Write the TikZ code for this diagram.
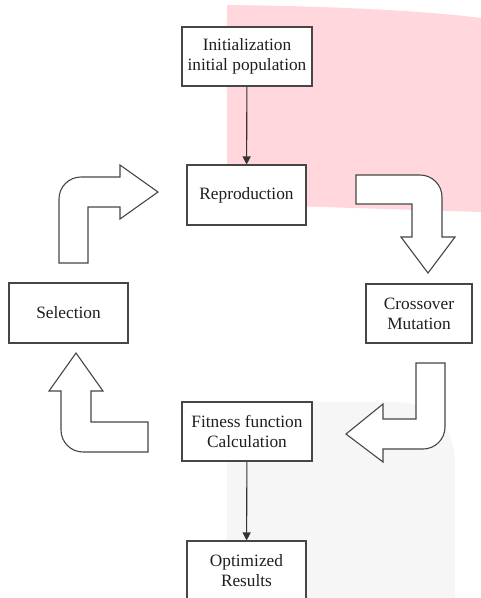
\documentclass[tikz,border=0pt]{standalone}
\usepackage{fontspec}
\setmainfont{Liberation Serif}
\usetikzlibrary{arrows.meta}
\definecolor{pinkbg}{RGB}{255,215,221}
\definecolor{graybg}{RGB}{246,246,246}
\definecolor{edge}{RGB}{70,70,70}
\definecolor{txt}{RGB}{30,30,30}
\tikzset{
  box/.style={draw=edge,line width=1.1pt,fill=white,text=txt,align=center,
    inner sep=0pt,font=\fontsize{17.3}{20}\selectfont},
  blockarrow/.style={draw=edge,line width=1.1pt,fill=white,line join=miter},
  link/.style={draw=black!80,line width=1.1pt,-{Triangle[length=8pt,width=8pt]}}
}
\begin{document}
\begin{tikzpicture}[x=1pt,y=-1pt]
\useasboundingbox (0,0) rectangle (481,598);
% background shapes
\fill[pinkbg] (227,5) .. controls (320,6) and (420,10) .. (481,18) -- (481,212) -- (227,204) -- cycle;
\fill[graybg] (227,402) -- (395,402) .. controls (432,402) and (455,425) .. (455,465) -- (455,598) -- (227,598) -- cycle;
% block arrows
\draw[blockarrow] (59,263) -- (59,199) .. controls (59,186.85) and (68.85,177) .. (81,177) -- (120,177) -- (120,165) -- (158,192) -- (120,219) -- (120,207) -- (88,207) -- (88,263) -- cycle;
\draw[blockarrow] (356,175) -- (420,175) .. controls (432.15,175) and (442,184.85) .. (442,197) -- (442,237) -- (455,237) -- (428,273) -- (401,237) -- (412,237) -- (412,204) -- (356,204) -- cycle;
\draw[blockarrow] (416,363) -- (445,363) -- (445,427) .. controls (445,439.15) and (435.15,449) .. (423,449) -- (383,449) -- (383,462) -- (346,434) -- (383,404) -- (383,419) -- (416,419) -- cycle;
\draw[blockarrow] (76,353) -- (103,391) -- (91,391) -- (91,422) -- (148,422) -- (148,452) -- (83,452) .. controls (70.85,452) and (61,442.15) .. (61,430) -- (61,391) -- (49,391) -- cycle;
% boxes
\node[box,minimum width=130pt,minimum height=59pt] (init) at (247,56.5) {Initialization\\initial population};
\node[box,minimum width=119pt,minimum height=60pt] (repro) at (246.5,195) {Reproduction};
\node[box,minimum width=119pt,minimum height=60pt] (sel) at (68.5,313) {Selection};
\node[box,minimum width=106pt,minimum height=59pt] (cross) at (419,313.5) {Crossover\\Mutation};
\node[box,minimum width=130pt,minimum height=59pt] (fit) at (247,431.5) {Fitness function\\Calculation};
\node[box,minimum width=119pt,minimum height=60pt] (opt) at (246.5,571) {Optimized\\Results};
% connectors
\draw[link] (init) -- (repro);
\draw[link] (fit) -- (opt);
\end{tikzpicture}
\end{document}
